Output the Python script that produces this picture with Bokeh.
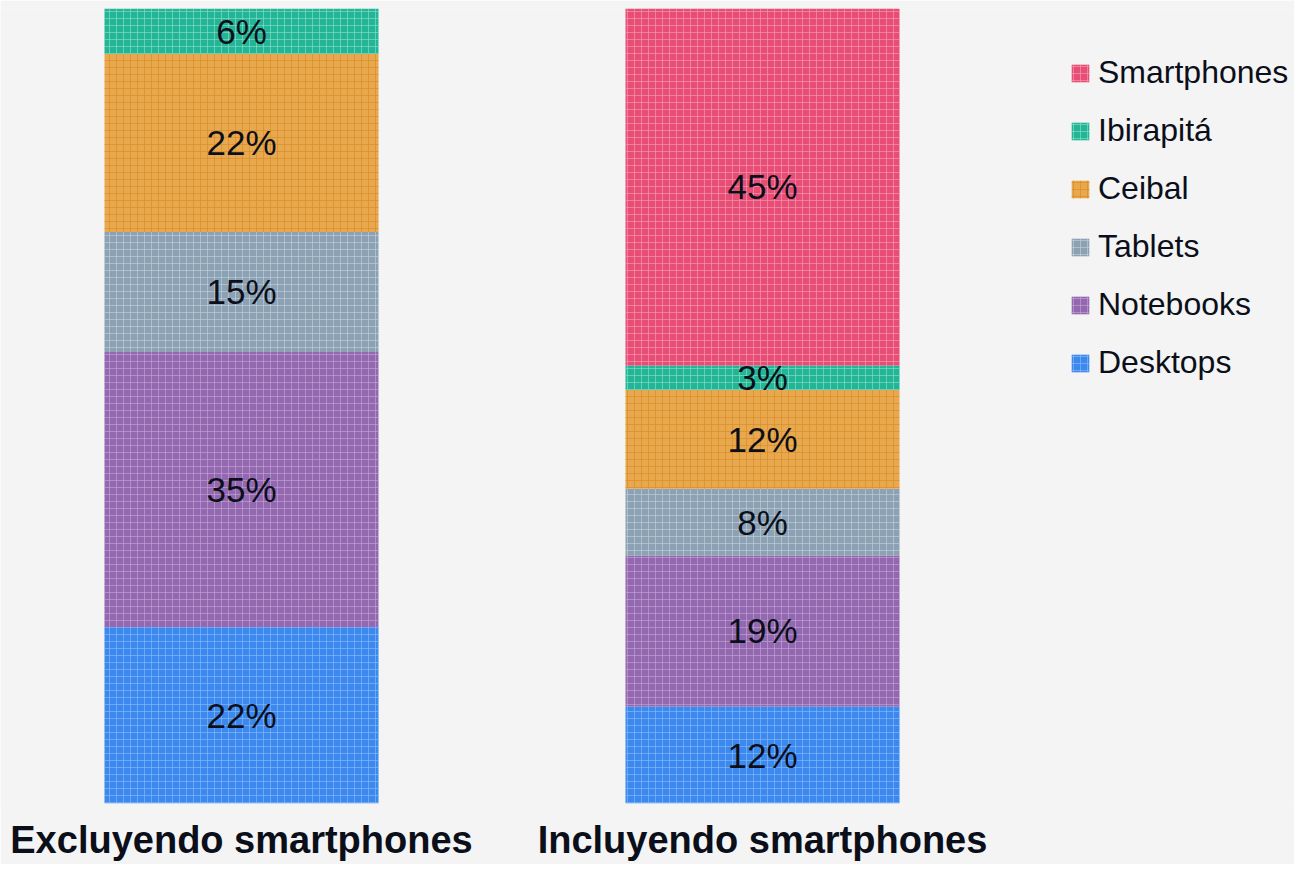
from bokeh.plotting import figure
from bokeh.models import ColumnDataSource, Legend, LegendItem, FixedTicker, Range1d
from bokeh.core.properties import value
from bokeh.embed import file_html
from bokeh.resources import INLINE

# ---- data ----
groups = ["Excluyendo smartphones", "Incluyendo smartphones"]
series = ["Desktops", "Notebooks", "Tablets", "Ceibal", "Ibirapitá", "Smartphones"]
desktops = [22.2, 12.2]
notebooks = [34.6, 19.0]
tablets = [15.1, 8.4]
ceibal = [22.4, 12.4]
ibirapita = [5.7, 3.1]
smartphones = [0.0, 44.9]

colors = ["#3b88ee", "#9468b0", "#8ca2b4", "#e8a850", "#22b696", "#e84d76"]
hatch_colors = ["#8fbcf7", "#c3a6d6", "#c4d2dc", "#d98a1c", "#8fe0cc", "#f4a0b8"]

xs = [0, 1]
data = {"x": xs,
        "Desktops": desktops, "Notebooks": notebooks, "Tablets": tablets,
        "Ceibal": ceibal, "Ibirapitá": ibirapita, "Smartphones": smartphones}

W, H = 1294, 864
scale = 521.0
x_start = -241.0 / scale
x_end = x_start + W / scale

p = figure(width=W, height=H, output_backend="svg", toolbar_location=None,
           x_range=Range1d(x_start, x_end), y_range=Range1d(0, 100),
           min_border_left=0, min_border_right=0, min_border_top=8,
           min_border_bottom=61)
p.background_fill_color = "#f4f4f4"
p.border_fill_color = "#f4f4f4"
p.outline_line_color = None
p.grid.visible = False
p.yaxis.visible = False

renderers = []
bottom = [0.0, 0.0]
for name, col, hc in zip(series, colors, hatch_colors):
    vals = data[name]
    top = [b + v for b, v in zip(bottom, vals)]
    src = ColumnDataSource(dict(x=xs, bottom=bottom, top=top))
    r = p.vbar(x="x", bottom="bottom", top="top", width=274 / scale, source=src,
               fill_color=col, line_color=None,
               hatch_pattern="+", hatch_color=hc, hatch_alpha=0.6,
               hatch_scale=7, hatch_weight=1)
    renderers.append(r)
    lx, ly, lt = [], [], []
    for i in range(2):
        if vals[i] > 0:
            lx.append(xs[i])
            ly.append((bottom[i] + top[i]) / 2)
            lt.append(f"{round(vals[i])}%")
    p.text(x=lx, y=ly, text=lt, text_align="center", text_baseline="middle",
           text_font=value("Liberation Sans"), text_font_size="35px",
           text_color="#0b0f1a")
    bottom = top

ax = p.xaxis[0]
ax.ticker = FixedTicker(ticks=xs)
ax.major_label_overrides = {x: g for x, g in zip(xs, groups)}
ax.major_label_text_font = "Liberation Sans"
ax.major_label_text_font_size = "38px"
ax.major_label_text_font_style = "bold"
ax.major_label_text_color = "#0b0f1a"
ax.axis_line_color = None
ax.major_tick_line_color = None
ax.minor_tick_line_color = None
ax.major_tick_out = 0
ax.major_tick_in = 0
ax.major_label_standoff = 15

items = [LegendItem(label=n, renderers=[r]) for n, r in zip(series, renderers)][::-1]
legend = Legend(items=items, location=(1069, 422),
                glyph_width=22, glyph_height=22, label_standoff=7,
                label_text_font="Liberation Sans", label_text_font_size="32px",
                label_text_color="#0b0f1a", spacing=21, padding=0, margin=0,
                border_line_color=None, background_fill_alpha=0)
p.add_layout(legend)

open("out.html", "w").write(file_html(p, INLINE))
